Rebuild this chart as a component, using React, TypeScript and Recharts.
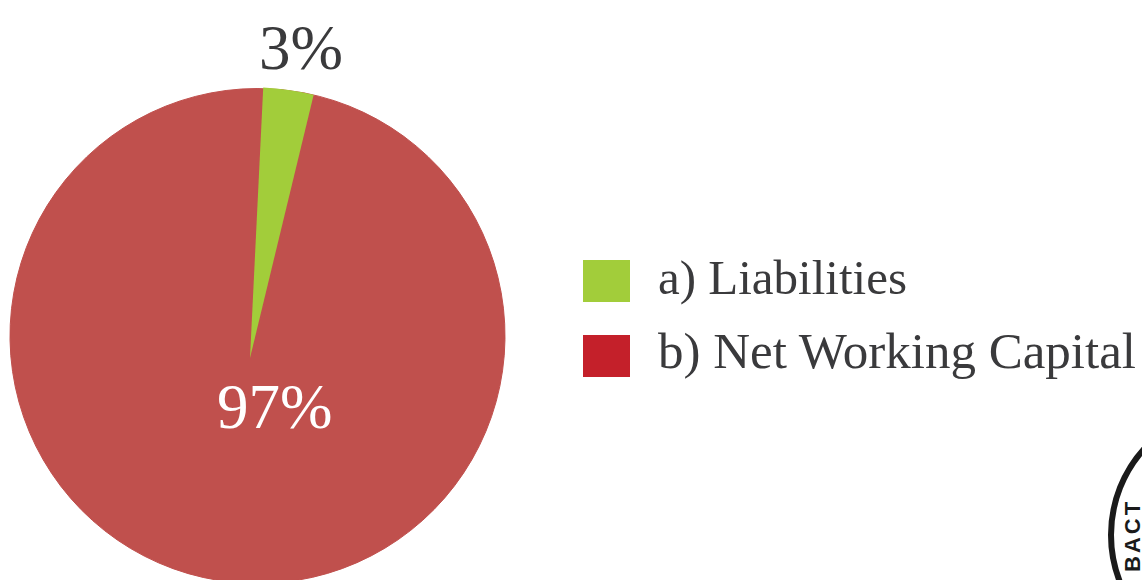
import React from "react";
import { PieChart, Pie, Cell } from "recharts";

const names = ["a) Liabilities", "b) Net Working Capital"];
const values = [3, 97];
const sliceColors = ["#a2cd3a", "#c0504d"];
const swatchColors = ["#a2cd3a", "#c4202a"];
const labels = ["3%", "97%"];
const stampText = "BACT";
const font = "'Liberation Serif', serif";
const data = names.map((name, i) => ({ name, value: values[i] }));

export default function App() {
  return (
    <div style={{ position: "absolute", left: 0, top: 0, width: 1142, height: 580, background: "#fff", overflow: "hidden", fontFamily: font }}>
      <PieChart width={1142} height={580} margin={{ top: 0, right: 0, bottom: 0, left: 0 }} style={{ position: "absolute", left: 0, top: 0 }}>
        <Pie data={data} dataKey="value" cx={257.5} cy={336} outerRadius={247.5} innerRadius={0} startAngle={90} endAngle={-270} stroke={sliceColors[1]} strokeWidth={1} isAnimationActive={false} label={false} labelLine={false}>
          {data.map((d) => <Cell key={d.name} fill={sliceColors[1]} stroke={sliceColors[1]} />)}
        </Pie>
        <Pie data={data} dataKey="value" cx={250} cy={358} outerRadius={270.8} innerRadius={0} startAngle={87.2} endAngle={-272.8} stroke="none" isAnimationActive={false} label={false} labelLine={false}>
          {data.map((d, i) => <Cell key={d.name} fill={i === 0 ? sliceColors[0] : "none"} stroke="none" />)}
        </Pie>
      </PieChart>
      <div style={{ position: "absolute", left: 259, top: 13, fontSize: 63, lineHeight: "70px", color: "#3a3a3c" }}>{labels[0]}</div>
      <div style={{ position: "absolute", left: 217, top: 372, fontSize: 63, lineHeight: "70px", color: "#fff" }}>{labels[1]}</div>
      {names.map((n, i) => (
        <React.Fragment key={n}>
          <div style={{ position: "absolute", left: 583, top: 260 + i * 75, width: 47, height: 42, background: swatchColors[i] }} />
          <div style={{ position: "absolute", left: 658, top: 248 + i * 73, fontSize: i === 0 ? 49 : 51, lineHeight: "60px", color: "#3a3a3c", whiteSpace: "nowrap" }}>{n}</div>
        </React.Fragment>
      ))}
      <svg width={1142} height={580} style={{ position: "absolute", left: 0, top: 0 }}>
        <circle cx={1239.5} cy={535} r={128.5} fill="none" stroke="#1a1a1a" strokeWidth={6} />
        <text transform="translate(1140,572) rotate(-90)" fontSize={22} fontWeight={700} letterSpacing={3} fontFamily="'Liberation Sans', sans-serif" fill="#1a1a1a" textAnchor="start">{stampText}</text>
      </svg>
    </div>
  );
}
